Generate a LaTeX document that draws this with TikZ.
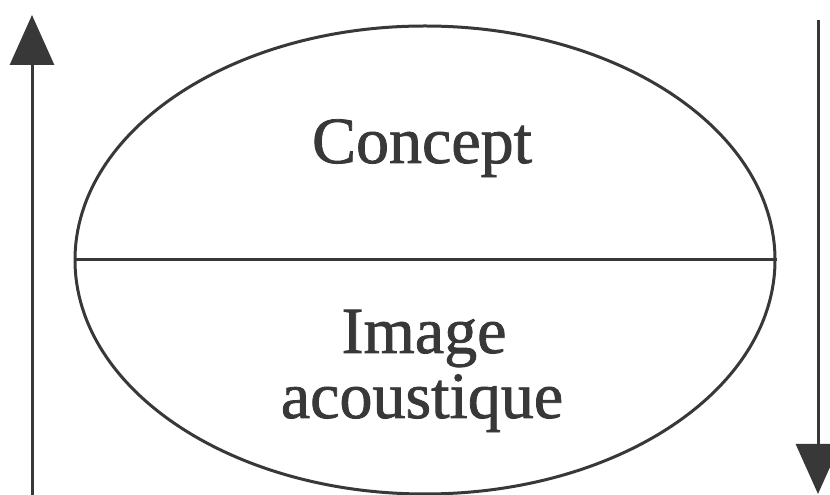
\documentclass[tikz,border=0pt]{standalone}
\usepackage{fontspec}
\setmainfont{Liberation Serif}[FakeBold=1.2]
\usetikzlibrary{arrows.meta,shapes.geometric}
\definecolor{ink}{HTML}{383838}
\tikzset{
  sign/.style={draw=ink, line width=3pt, ellipse, minimum width=700pt, minimum height=468pt, inner sep=0pt},
  bar/.style={draw=ink, line width=3pt},
  flow/.style={draw=ink, line width=3pt, -{Triangle[length=50pt,width=44pt,fill=ink]}},
  lbl/.style={text=ink, font=\fontsize{66}{66}\selectfont, align=center, inner sep=0pt}
}
\begin{document}
\begin{tikzpicture}[x=1pt,y=1pt]
\useasboundingbox (0,0) rectangle (830,495);
\clip (0,0) rectangle (830,495);
\fill[white] (0,0) rectangle (830,495);
\node[sign] (e) at (425,235) {};
\draw[bar] (e.west) -- (e.east);
\node[lbl, anchor=base] (concept) at (422,332) {Concept};
\node[lbl, anchor=base] (image) at (424,142) {Image};
\node[lbl, anchor=base] (acou) at (422,77) {acoustique};
\coordinate (lb) at (32,-2);
\coordinate (lt) at (32,480);
\coordinate (rt) at (818,475);
\coordinate (rb) at (818,1);
\draw[flow] (lb) -- (lt);
\draw[flow] (rt) -- (rb);
\end{tikzpicture}
\end{document}
